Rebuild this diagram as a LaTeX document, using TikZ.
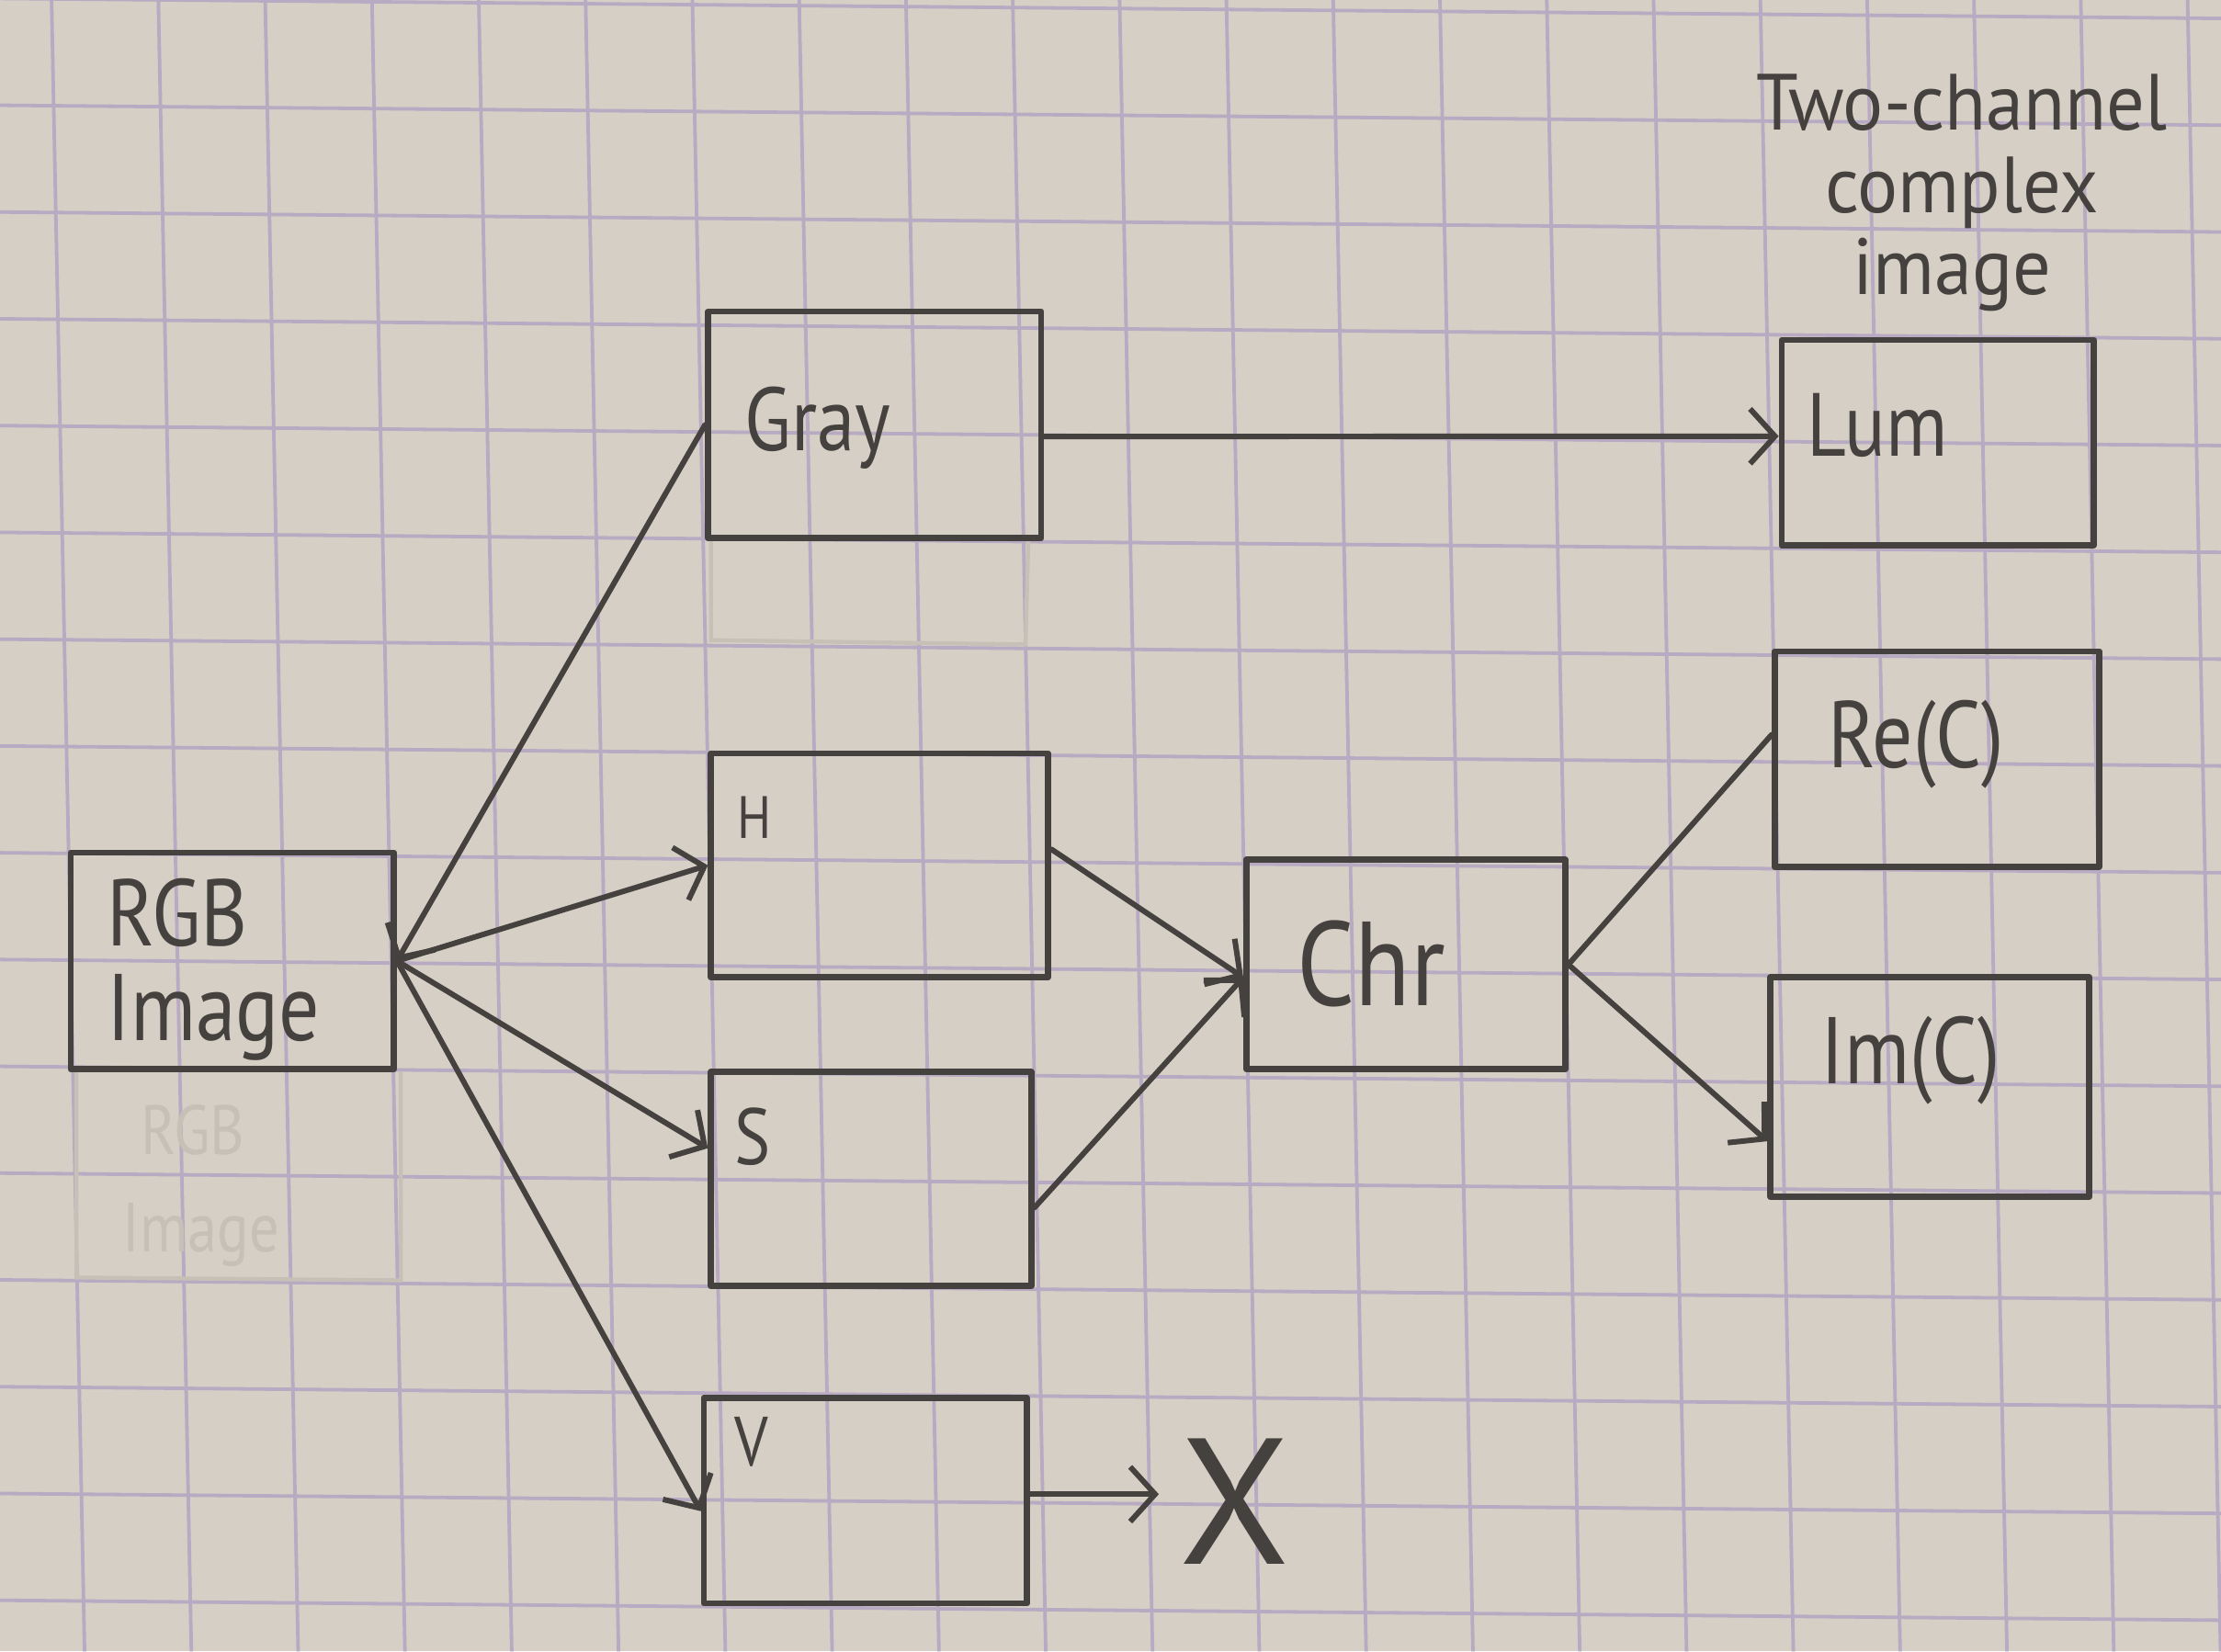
\documentclass[tikz,border=0pt]{standalone}
\usepackage{fontspec}
\setmainfont{PT Sans}
\usetikzlibrary{arrows.meta,calc}
\definecolor{paper}{HTML}{D6CFC5}
\definecolor{gridc}{HTML}{B8AAC2}
\definecolor{pencil}{HTML}{45413E}
\definecolor{ghost}{HTML}{C7C0B6}
\newcommand\handsq[1]{\scalebox{0.85}[1]{#1}}
\begin{document}
\begin{tikzpicture}[x=0.01cm,y=-0.01cm,
  pen/.style={draw=pencil,line width=1.25pt,line cap=round,line join=round},
  box/.style={pen,rectangle,inner sep=0pt},
  link/.style={pen,line width=1.1pt,-{Straight Barb[length=5pt,width=11pt,line width=1.1pt]}},
  plain/.style={pen,line width=1.1pt},
  hand/.style={text=pencil,inner sep=0pt,anchor=base west},
  faint/.style={draw=ghost,line width=0.8pt}]
% paper and grid
\fill[paper] (0,0) rectangle (1568,1166);
\useasboundingbox (0,0) rectangle (1568,1166);
\begin{scope}
\clip (0,0) rectangle (1568,1166);
\foreach \k in {0,...,20}{
  \draw[gridc,line width=0.7pt] ({36.4+75.4*\k},0) -- ({59.7+75.4*\k},1166);}
\foreach \j in {-9,...,6}{
  \draw[gridc,line width=0.7pt] (0,{677.5+75.4*\j}) -- (1568,{691.6+75.4*\j});}
\end{scope}
% erased traces
\draw[faint] (54,757) -- (54,902) -- (283,904) -- (283,757);
\node[text=ghost,inner sep=0pt,anchor=base west,font=\fontsize{14}{17}\selectfont] (ghost1) at (99,815) {\handsq{RGB}};
\node[text=ghost,inner sep=0pt,anchor=base west,font=\fontsize{14}{17}\selectfont] (ghost2) at (86,884) {\handsq{Image}};
\draw[faint] (502,382) -- (502,452) -- (724,455) -- (726,382);
% boxes
\node[box,minimum width=2.28cm,minimum height=1.53cm] (rgb) at (164,678.5) {};
\node[box,minimum width=2.35cm,minimum height=1.60cm] (gray) at (617.5,300) {};
\node[box,minimum width=2.38cm,minimum height=1.58cm] (h) at (621,611) {};
\node[box,minimum width=2.26cm,minimum height=1.51cm] (s) at (615,832.5) {};
\node[box,minimum width=2.28cm,minimum height=1.45cm] (v) at (611,1059.5) {};
\node[box,minimum width=2.25cm,minimum height=1.48cm] (chr) at (992.5,681) {};
\node[box,minimum width=2.20cm,minimum height=1.45cm] (lum) at (1368,312.5) {};
\node[box,minimum width=2.29cm,minimum height=1.52cm] (re) at (1367.5,536) {};
\node[box,minimum width=2.25cm,minimum height=1.55cm] (im) at (1362.5,767.5) {};
% labels
\node[hand,font=\fontsize{19}{22}\selectfont] (rgbt1) at (75,668) {\handsq{RGB}};
\node[hand,font=\fontsize{19}{22}\selectfont] (rgbt2) at (75,735) {\handsq{Image}};
\node[hand,font=\fontsize{18}{22}\selectfont] (grayt) at (525,318) {\handsq{Gray}};
\node[hand,font=\fontsize{12}{14}\selectfont] (ht) at (520,592) {\handsq{H}};
\node[hand,font=\fontsize{16}{19}\selectfont] (st) at (518,822) {\handsq{S}};
\node[hand,font=\fontsize{14}{17}\selectfont] (vt) at (518,1035) {\handsq{V}};
\node[hand,font=\fontsize{24}{28}\selectfont] (chrt) at (915,710) {\handsq{Chr}};
\node[hand,font=\fontsize{18}{22}\selectfont] (lumt) at (1275,322) {\handsq{Lum}};
\node[hand,font=\fontsize{19}{22}\selectfont] (ret) at (1290,542) {\handsq{Re(C)}};
\node[hand,font=\fontsize{19}{22}\selectfont] (imt) at (1285,765) {\handsq{Im(C)}};
\node[text=pencil,inner sep=0pt,anchor=base,font=\fontsize{16}{19}\selectfont] (tc1) at (1385,92) {\scalebox{0.95}[1]{Two-channel}};
\node[text=pencil,inner sep=0pt,anchor=base,font=\fontsize{16}{19}\selectfont] (tc2) at (1385,150) {\scalebox{0.95}[1]{complex}};
\node[text=pencil,inner sep=0pt,anchor=base,font=\fontsize{16}{19}\selectfont] (tc3) at (1378,208) {\scalebox{0.95}[1]{image}};
\node[text=pencil,inner sep=4pt,font=\fontsize{36}{40}\selectfont] (xmark) at (872,1060) {X};
% connectors
\draw[link] (gray.west) -- (rgb.east);
\draw[link] (rgb.east) -- (h.west);
\draw[link] (rgb.east) -- ($(s.north west)!0.36!(s.south west)$);
\draw[link] (rgb.east) -- ($(v.north west)!0.55!(v.south west)$);
\draw[link] ($(gray.north east)!0.55!(gray.south east)$) -- ($(lum.north west)!0.47!(lum.south west)$);
\draw[link] ($(h.north east)!0.43!(h.south east)$) -- ($(chr.north west)!0.56!(chr.south west)$);
\draw[link] ($(s.north east)!0.63!(s.south east)$) -- ($(chr.north west)!0.56!(chr.south west)$);
\draw[plain] (chr.east) -- ($(re.north west)!0.39!(re.south west)$);
\draw[link] (chr.east) -- ($(im.north west)!0.74!(im.south west)$);
\coordinate (vout) at ($(v.north east)!0.47!(v.south east)$);
\draw[link] (vout) -- (vout -| xmark.west);
\end{tikzpicture}
\end{document}
